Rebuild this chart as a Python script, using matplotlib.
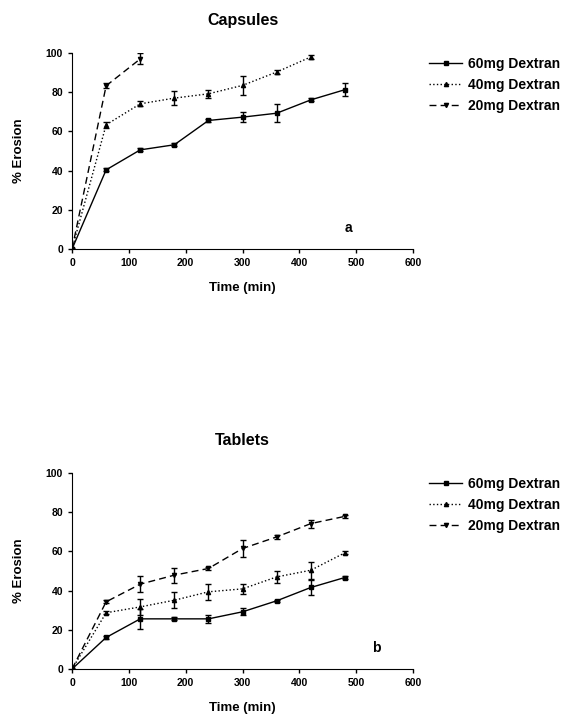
import matplotlib.pyplot as plt
from matplotlib.lines import Line2D

plt.rcParams['font.family'] = ['Liberation Sans', 'DejaVu Sans']
plt.rcParams['font.weight'] = 'bold'

time = [0, 60, 120, 180, 240, 300, 360, 420, 480]
labels = ['60mg Dextran', '40mg Dextran', '20mg Dextran']

# capsules
cap_60 = [0, 40.4, 50.6, 53.2, 65.6, 67.3, 69.3, 76.1, 81.3]
cap_60_err = [0, 0.8, 0.8, 0.8, 0.8, 2.5, 4.7, 0.8, 3.4]
cap_40 = [0, 63.4, 74.1, 77.0, 79.2, 83.5, 90.3, 98.0]
cap_40_err = [0, 1.5, 1.2, 3.4, 2.0, 5.0, 1.0, 1.0]
cap_20 = [0, 83.3, 97.0]
cap_20_err = [0, 1.2, 2.8]

# tablets
tab_60 = [0, 16.1, 25.6, 25.6, 25.6, 29.2, 34.8, 41.6, 46.7]
tab_60_err = [0, 1.0, 5.0, 0.8, 2.0, 1.8, 0.6, 3.8, 0.8]
tab_40 = [0, 28.7, 31.7, 35.1, 39.4, 40.9, 47.0, 50.4, 59.3]
tab_40_err = [0, 0.8, 4.0, 4.0, 4.0, 2.5, 3.0, 4.4, 0.8]
tab_20 = [0, 34.3, 43.3, 47.9, 51.3, 61.5, 67.4, 74.2, 77.9]
tab_20_err = [0, 0.8, 4.0, 3.8, 0.8, 4.2, 0.8, 2.0, 0.8]

styles = [('-', 's'), (':', '^'), ((0, (5, 3)), 'v')]

fig = plt.figure(figsize=(5.87, 7.15), dpi=100)
ax1 = fig.add_axes([0.1227, 0.6517, 0.581, 0.2741])
ax2 = fig.add_axes([0.1227, 0.0643, 0.581, 0.2741])

def draw(ax, series, title, letter, lx):
    handles = []
    for (y, e), lab, (ls, mk) in zip(series, labels, styles):
        ax.errorbar(time[:len(y)], y, yerr=e, color='black', linestyle=ls, marker=mk,
                    markersize=3, linewidth=1, elinewidth=1, capsize=2.5)
        handles.append(Line2D([], [], color='black', linestyle=ls, marker=mk,
                              markersize=3, linewidth=1, label=lab))
    ax.set_xlim(0, 600)
    ax.set_ylim(0, 100)
    ax.set_xticks(range(0, 601, 100))
    ax.set_yticks(range(0, 101, 20))
    ax.spines['top'].set_visible(False)
    ax.spines['right'].set_visible(False)
    ax.tick_params(direction='out', length=3, labelsize=7.5, width=1)
    ax.set_title(title, fontsize=11.5, fontweight='bold', pad=20)
    ax.set_xlabel('Time (min)', fontsize=9.5, fontweight='bold', labelpad=10)
    ax.set_ylabel('% Erosion', fontsize=9.5, fontweight='bold', labelpad=15)
    ax.text(lx, 10.5, letter, fontsize=10, fontweight='bold', ha='center', va='center')
    ax.legend(handles=handles, loc='upper left', bbox_to_anchor=(1.03, 1.01),
              frameon=False, fontsize=10, handlelength=2.4, handletextpad=0.4,
              labelspacing=0.5, borderaxespad=0)

draw(ax1, [(cap_60, cap_60_err), (cap_40, cap_40_err), (cap_20, cap_20_err)],
     'Capsules', 'a', 486)
draw(ax2, [(tab_60, tab_60_err), (tab_40, tab_40_err), (tab_20, tab_20_err)],
     'Tablets', 'b', 535)

fig.savefig('out.png', dpi=100)
